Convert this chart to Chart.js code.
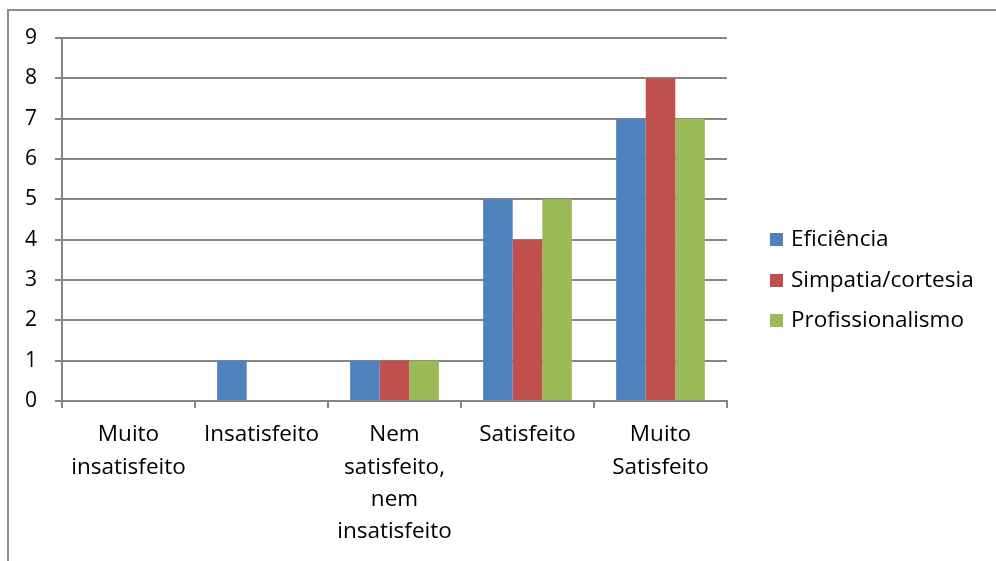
<!doctype html>
<html lang="pt">
  <head>
    <meta charset="utf-8">
    <title>Avaliação</title>
    <style>
      * { margin: 0; padding: 0; }
      body { width: 996px; height: 561px; background: white; overflow: hidden; position: relative; }
      .frame { position: absolute; left: 7px; top: 9px; width: 1100px; height: 700px; border: 2px solid #8c8c8c; }
      .chartBox { position: absolute; left: 0; top: 0; width: 996px; height: 561px; }
    </style>
  </head>
  <body>
    <div class="frame"></div>
    <div class="chartBox"><canvas id="myChart"></canvas></div>
    <script src="https://cdn.jsdelivr.net/npm/chart.js/dist/chart.umd.min.js"></script>
    <script>
    // setup
    const categories = [
      ['Muito', 'insatisfeito'],
      ['Insatisfeito'],
      ['Nem', 'satisfeito,', 'nem', 'insatisfeito'],
      ['Satisfeito'],
      ['Muito', 'Satisfeito']
    ];
    const seriesNames = ['Eficiência', 'Simpatia/cortesia', 'Profissionalismo'];
    const eficiencia = [0, 1, 1, 5, 7];
    const simpatia = [0, 0, 1, 4, 8];
    const profissionalismo = [0, 0, 1, 5, 7];
    const colors = ['#4f81bd', '#c0504d', '#9bbb59'];
    const FONT = '"Open Sans"';

    const data = {
      labels: categories,
      datasets: [eficiencia, simpatia, profissionalismo].map((vals, i) => ({
        label: seriesNames[i],
        data: vals,
        backgroundColor: colors[i],
        barPercentage: 1,
        categoryPercentage: 0.667,
        borderWidth: 0
      }))
    };

    // legend on the right, drawn by hand
    const sideLegend = {
      id: 'sideLegend',
      afterDraw(chart) {
        const { ctx } = chart;
        ctx.save();
        ctx.font = '22.5px ' + FONT;
        ctx.textBaseline = 'middle';
        ctx.textAlign = 'left';
        const rows = [239, 280, 320];
        chart.data.datasets.forEach((ds, i) => {
          ctx.fillStyle = ds.backgroundColor;
          ctx.fillRect(770, rows[i] - 6, 13, 13);
          ctx.fillStyle = '#000';
          ctx.fillText(ds.label, 791, rows[i] + 1);
        });
        ctx.restore();
      }
    };

    const config = {
      type: 'bar',
      data,
      options: {
        animation: false,
        responsive: true,
        maintainAspectRatio: false,
        layout: { padding: { left: 0, right: 269, top: 38, bottom: 0 } },
        scales: {
          x: {
            afterFit(scale) { scale.height = 160; },
            grid: {
              offset: true,
              drawOnChartArea: false,
              tickLength: 7,
              color: '#868686',
              lineWidth: 2
            },
            border: { color: '#868686', width: 2 },
            ticks: {
              color: '#000',
              font: { family: FONT, size: 22.5, lineHeight: 1.43 },
              padding: 11,
              maxRotation: 0,
              autoSkip: false
            }
          },
          y: {
            min: 0,
            max: 9,
            afterFit(scale) { scale.width = 62; },
            grid: {
              color: '#868686',
              lineWidth: 2,
              tickLength: 7
            },
            border: { color: '#868686', width: 2 },
            ticks: {
              stepSize: 1,
              color: '#000',
              padding: 18,
              font: { family: FONT, size: 21 }
            }
          }
        },
        plugins: {
          legend: { display: false },
          tooltip: { enabled: false }
        }
      },
      plugins: [sideLegend]
    };

    const myChart = new Chart(document.getElementById('myChart'), config);
    </script>
  </body>
</html>
